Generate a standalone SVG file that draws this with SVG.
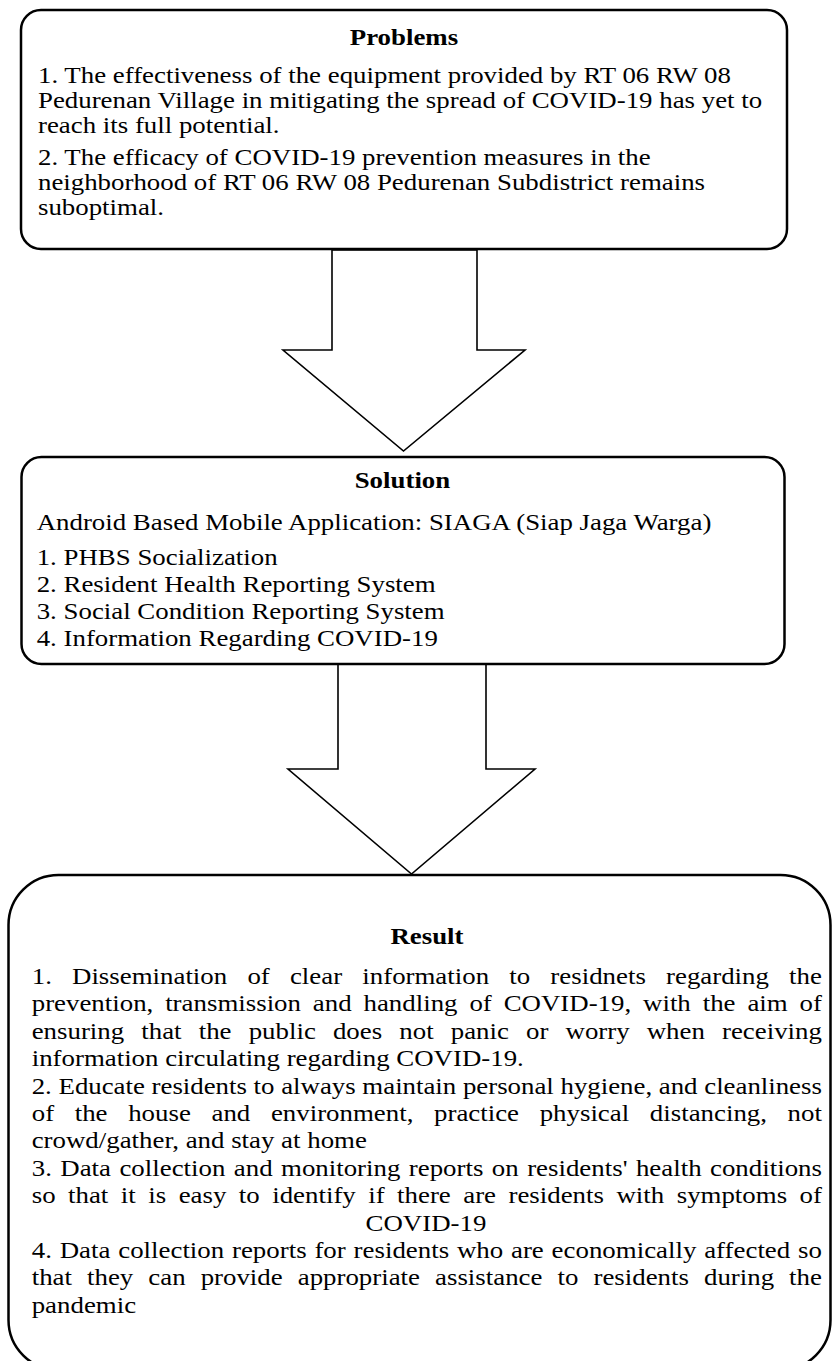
<svg xmlns="http://www.w3.org/2000/svg" width="832" height="1361" viewBox="0 0 832 1361">
<style>
.t { font-family: "Liberation Serif", "Times New Roman", serif; font-size: 22.7px; fill: #000; }
.b { font-weight: bold; }
.box { fill: #fff; stroke: #000; stroke-width: 2.5; }
.arrow { fill: #fff; stroke: #000; stroke-width: 1.6; stroke-linejoin: miter; }
</style>
<rect width="832" height="1361" fill="#fff"/>
<g id="connectors">
  <polygon class="arrow" points="332,250 332,350 283,350 403.5,451 525,350 477,350 477,250"/>
  <polygon class="arrow" points="338,664 338,769 288,769 411.5,874 535,769 486,769 486,664"/>
</g>
<g id="problems">
  <rect class="box" x="21" y="10" width="766" height="239" rx="20" ry="20"/>
  <g transform="scale(1.183,1)">
    <text class="t b" x="341.5" y="45" text-anchor="middle">Problems</text>
    <text class="t" x="32.1" y="83">1. The effectiveness of the equipment provided by RT 06 RW 08</text>
    <text class="t" x="32.1" y="108">Pedurenan Village in mitigating the spread of COVID-19 has yet to</text>
    <text class="t" x="32.1" y="133">reach its full potential.</text>
    <text class="t" x="32.1" y="165">2. The efficacy of COVID-19 prevention measures in the</text>
    <text class="t" x="32.1" y="190">neighborhood of RT 06 RW 08 Pedurenan Subdistrict remains</text>
    <text class="t" x="32.1" y="215">suboptimal.</text>
  </g>
</g>
<g id="solution">
  <rect class="box" x="21.5" y="457" width="763" height="207" rx="20" ry="20"/>
  <g transform="scale(1.183,1)">
    <text class="t b" x="340.2" y="488" text-anchor="middle">Solution</text>
    <text class="t" x="31" y="530">Android Based Mobile Application: SIAGA (Siap Jaga Warga)</text>
    <text class="t" x="31" y="565">1. PHBS Socialization</text>
    <text class="t" x="31" y="592">2. Resident Health Reporting System</text>
    <text class="t" x="31" y="619">3. Social Condition Reporting System</text>
    <text class="t" x="31" y="646">4. Information Regarding COVID-19</text>
  </g>
</g>
<g id="result">
  <rect class="box" x="8.5" y="875" width="822" height="495" rx="50" ry="50"/>
  <g transform="scale(1.183,1)">
    <text class="t b" x="360.9" y="944" text-anchor="middle">Result</text>
    <text class="t" x="26.8" y="984" word-spacing="11.4" textLength="668" lengthAdjust="spacing">1. Dissemination of clear information to residnets regarding the</text>
    <text class="t" x="26.8" y="1011.4" word-spacing="4.38" textLength="668" lengthAdjust="spacing">prevention, transmission and handling of COVID-19, with the aim of</text>
    <text class="t" x="26.8" y="1038.8" word-spacing="8.8" textLength="668" lengthAdjust="spacing">ensuring that the public does not panic or worry when receiving</text>
    <text class="t" x="26.8" y="1066.2">information circulating regarding COVID-19.</text>
    <text class="t" x="26.8" y="1093.6" textLength="668" lengthAdjust="spacing">2. Educate residents to always maintain personal hygiene, and cleanliness</text>
    <text class="t" x="26.8" y="1121" word-spacing="11.8" textLength="668" lengthAdjust="spacing">of the house and environment, practice physical distancing, not</text>
    <text class="t" x="26.8" y="1148.4">crowd/gather, and stay at home</text>
    <text class="t" x="26.8" y="1175.8" word-spacing="1.47" textLength="668" lengthAdjust="spacing">3. Data collection and monitoring reports on residents' health conditions</text>
    <text class="t" x="26.8" y="1203.2" word-spacing="4.87" textLength="668" lengthAdjust="spacing">so that it is easy to identify if there are residents with symptoms of</text>
    <text class="t" x="360.1" y="1230.6" text-anchor="middle">COVID-19</text>
    <text class="t" x="26.8" y="1258" word-spacing="0.92" textLength="668" lengthAdjust="spacing">4. Data collection reports for residents who are economically affected so</text>
    <text class="t" x="26.8" y="1285.4" word-spacing="7.04" textLength="668" lengthAdjust="spacing">that they can provide appropriate assistance to residents during the</text>
    <text class="t" x="26.8" y="1312.8">pandemic</text>
  </g>
</g>
</svg>
